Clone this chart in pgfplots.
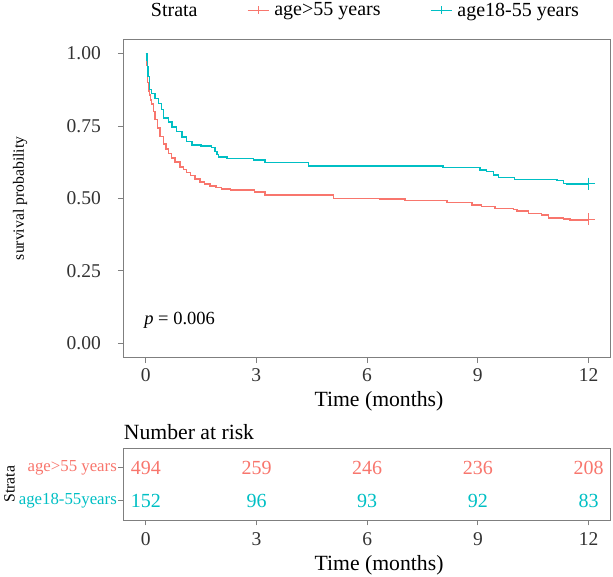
\documentclass[border=0pt]{standalone}
\usepackage{fontspec}
\setmainfont{Liberation Serif}
\usepackage{pgfplots}
\pgfplotsset{compat=1.18}

\definecolor{cOld}{HTML}{F8766D}
\definecolor{cYoung}{HTML}{00BFC4}
\definecolor{framegray}{HTML}{7F7F7F}
\definecolor{ticktxt}{HTML}{333333}
\newcommand\fs[1]{\fontsize{#1}{#1}\selectfont}

\pgfplotsset{
  kmframe/.style={
    scale only axis, anchor=south west,
    xmin=-0.6, xmax=12.6,
    xtick={0,3,6,9,12},
    tick align=outside, tick pos=left, major tick length=5.5pt,
    tick style={framegray, line width=0.8pt},
    axis line style={framegray, line width=0.8pt},
    ticklabel style={font=\fs{19.5}, text=ticktxt, inner sep=0pt},
    /pgf/number format/assume math mode=true,
  },
}

\begin{document}
\begin{tikzpicture}
\path[use as bounding box] (0,0) rectangle (613pt,577pt);

% survival curves
\begin{axis}[kmframe,
  at={(123.5pt,219.3pt)}, width=487.2pt, height=318.7pt,
  ymin=-0.05, ymax=1.05,
  ytick={0,0.25,0.5,0.75,1},
  yticklabels={0.00,0.25,0.50,0.75,1.00},
  xticklabel style={anchor=center, yshift=-11.8pt},
  yticklabel style={anchor=east},
  yticklabel shift=17pt,
  xlabel={Time (months)},
  xlabel style={font=\fs{21.7}, at={(axis description cs:0.5244,-0.138)}, anchor=center, inner sep=0pt},
  ylabel={survival probability},
  ylabel style={font=\fs{15.7}, at={(axis description cs:-0.2124,0.5)}, anchor=center, inner sep=0pt},
  legend columns=-1, legend cell align=left,
  legend style={at={(axis description cs:0.0456,1.0904)}, anchor=west,
    draw=none, fill=none, inner sep=0pt, font=\fs{20}, nodes={inner sep=0pt},
    /tikz/every odd column/.append style={column sep=5pt},
    /tikz/every even column/.append style={column sep=49.5pt}},
  legend image code/.code={\draw[mark repeat=2,mark phase=2,#1] plot coordinates {(0pt,0pt) (10.5pt,0pt) (21pt,0pt)};},
]
\addplot[cOld, line width=1.5pt, const plot, forget plot] coordinates {
(0,1) (0.02,0.96) (0.05,0.9) (0.08,0.87) (0.1,0.856) (0.13,0.84) (0.165,0.825)
(0.21,0.8) (0.255,0.772) (0.32,0.743) (0.39,0.714) (0.48,0.688) (0.55,0.67)
(0.62,0.655) (0.7,0.64) (0.8,0.626) (0.93,0.608) (1.02,0.6) (1.11,0.59)
(1.22,0.578) (1.34,0.566) (1.47,0.556) (1.6,0.549) (1.75,0.543) (1.9,0.537)
(2.05,0.533) (2.3,0.529) (2.95,0.522) (3.24,0.511) (5.09,0.5) (6.35,0.497)
(7.03,0.493) (8.16,0.485) (8.84,0.477) (9.1,0.471) (9.47,0.465) (9.96,0.462)
(10.06,0.456) (10.37,0.448) (10.73,0.442) (10.91,0.433) (11.32,0.428)
(11.5,0.425) (12,0.425)
};
\addplot[cYoung, line width=1.5pt, const plot, forget plot] coordinates {
(0,1) (0.03,0.975) (0.05,0.955) (0.07,0.92) (0.1,0.876) (0.165,0.862)
(0.255,0.845) (0.345,0.828) (0.435,0.806) (0.48,0.778) (0.615,0.764)
(0.71,0.747) (0.84,0.73) (0.98,0.712) (1.11,0.696) (1.25,0.684) (1.5,0.68)
(1.79,0.675) (1.88,0.661) (1.93,0.652) (1.97,0.643) (2.2,0.637) (2.92,0.632)
(3.24,0.624) (4.41,0.612) (8.05,0.606) (9.06,0.598) (9.24,0.592) (9.42,0.58)
(9.56,0.572) (10.0,0.565) (11.14,0.561) (11.32,0.552) (11.4,0.549) (12,0.549)
};
% censoring marks
\addplot[cOld, only marks, mark=+, mark size=6pt, line width=1.3pt, forget plot] coordinates {(12,0.427)};
\addplot[cYoung, only marks, mark=+, mark size=6pt, line width=1.3pt, forget plot] coordinates {(12,0.551)};

\addlegendimage{empty legend}\addlegendentry{Strata}
\addlegendimage{cOld, line width=1.3pt, mark=+, mark size=4pt}\addlegendentry{age>55 years}
\addlegendimage{cYoung, line width=1.3pt, mark=+, mark size=4pt}\addlegendentry{age18-55 years}

\node[anchor=base west, inner sep=0pt, font=\fs{18.5}] at (axis cs:-0.04,0.065) {\textit{p} = 0.006};
\end{axis}

% number at risk
\begin{axis}[kmframe,
  at={(123.7pt,57pt)}, width=487pt, height=71.7pt,
  clip mode=individual,
  ymin=0.42, ymax=2.58,
  ytick={1,2},
  yticklabels={\textcolor{cYoung}{age18-55years},\textcolor{cOld}{age>55 years}},
  xticklabel style={anchor=center, yshift=-13.5pt},
  yticklabel style={anchor=east, xshift=-1.2pt, font=\fs{16.8}},
  xlabel={Time (months)},
  xlabel style={font=\fs{21.7}, at={(axis description cs:0.5244,-0.6276)}, anchor=center, inner sep=0pt},
  ylabel={Strata},
  ylabel style={font=\fs{15.7}, at={(axis description cs:-0.2345,0.5)}, anchor=center, inner sep=0pt},
]
\addplot[draw=none, mark=none, nodes near coords, point meta=explicit symbolic,
  every node near coord/.append style={anchor=center, font=\fs{20}, text=cOld, inner sep=0pt}]
  table[meta=n] {
x y n
0 2 494
3 2 259
6 2 246
9 2 236
12 2 208
};
\addplot[draw=none, mark=none, nodes near coords, point meta=explicit symbolic,
  every node near coord/.append style={anchor=center, font=\fs{20}, text=cYoung, inner sep=0pt}]
  table[meta=n] {
x y n
0 1 152
3 1 96
6 1 93
9 1 92
12 1 83
};
\node[anchor=west, inner sep=0pt, font=\fs{21.7}] at (axis description cs:0,1.226) {Number at risk};
\end{axis}
\end{tikzpicture}
\end{document}
